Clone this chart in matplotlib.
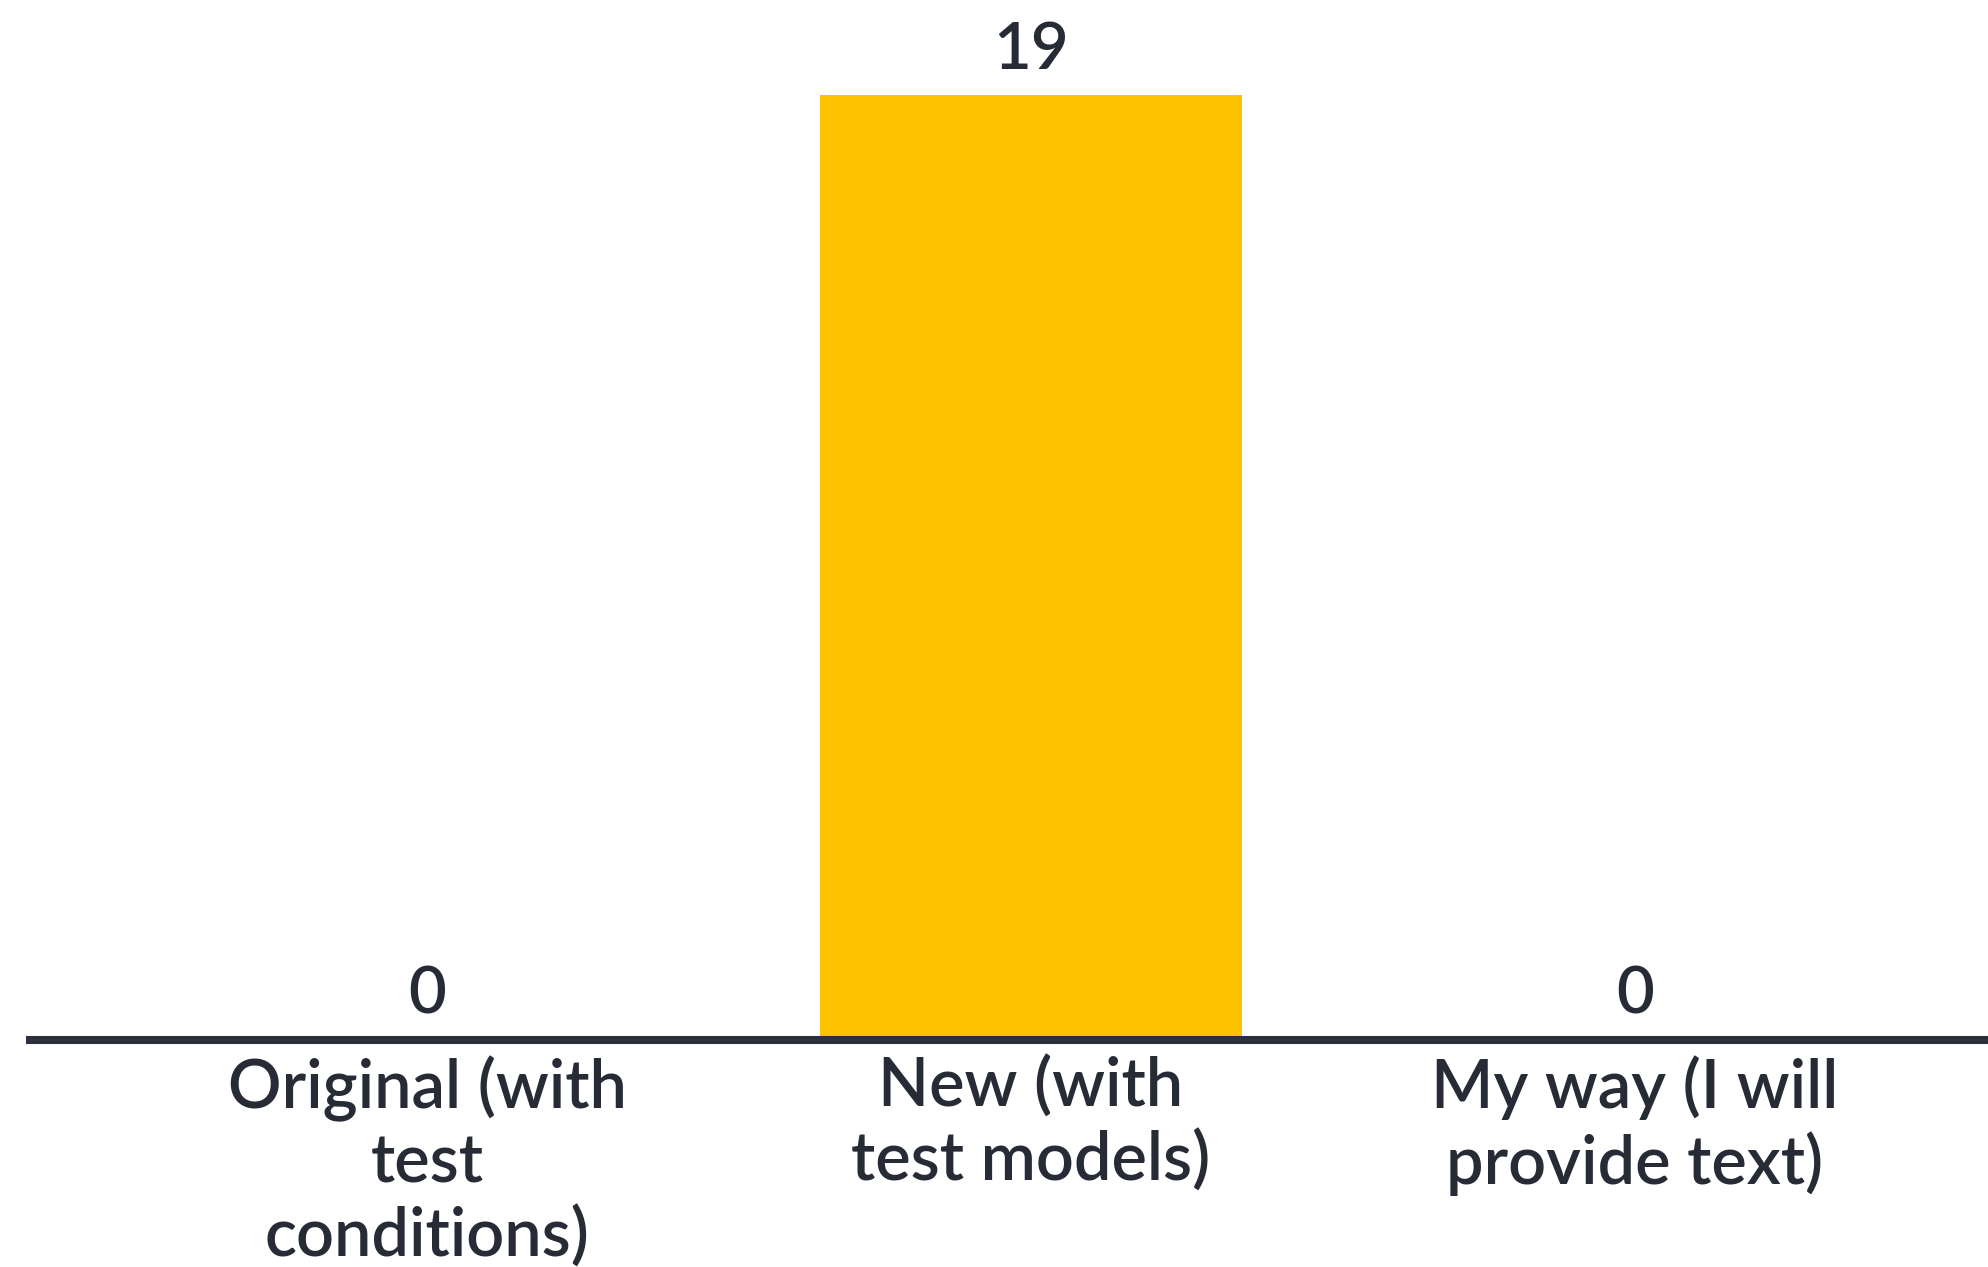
import matplotlib
matplotlib.use("Agg")
import matplotlib.pyplot as plt

categories = ["Original (with\ntest\nconditions)",
              "New (with\ntest models)",
              "My way (I will\nprovide text)"]
votes = [0, 19, 0]

BAR_COLOUR = "#FDC300"
TEXT_COLOUR = "#262B36"
LINE_COLOUR = "#2B303B"

plt.rcParams["font.family"] = ["Lato", "DejaVu Sans"]

fig = plt.figure(figsize=(19.88, 12.67), dpi=100)
ax = fig.add_axes([30 / 1988, (1267 - 1040) / 1267, 1 - 30 / 1988, 1040 / 1267])

xs = list(range(len(categories)))
bars = ax.bar(xs, votes, width=0.7, color=BAR_COLOUR, zorder=2)

for x, v in zip(xs, votes):
    ax.annotate(str(v), (x, v), xytext=(0, 19), textcoords="offset points",
                ha="center", va="baseline", fontsize=47, color=TEXT_COLOUR,
                fontweight="semibold")

ax.set_xlim(-0.658, 2.585)
ax.set_ylim(0, 19 * 1040 / 945)

for side in ["top", "right", "left"]:
    ax.spines[side].set_visible(False)
ax.spines["bottom"].set_color(LINE_COLOUR)
ax.spines["bottom"].set_linewidth(5.8)
ax.spines["bottom"].set_zorder(3)

ax.set_yticks([])
ax.set_xticks(xs)
ax.set_xticklabels(categories, fontsize=48, color=TEXT_COLOUR,
                   fontweight="semibold", linespacing=1.22)
ax.tick_params(axis="x", length=0, pad=11)

fig.savefig("out.png", dpi=100, facecolor="white")
